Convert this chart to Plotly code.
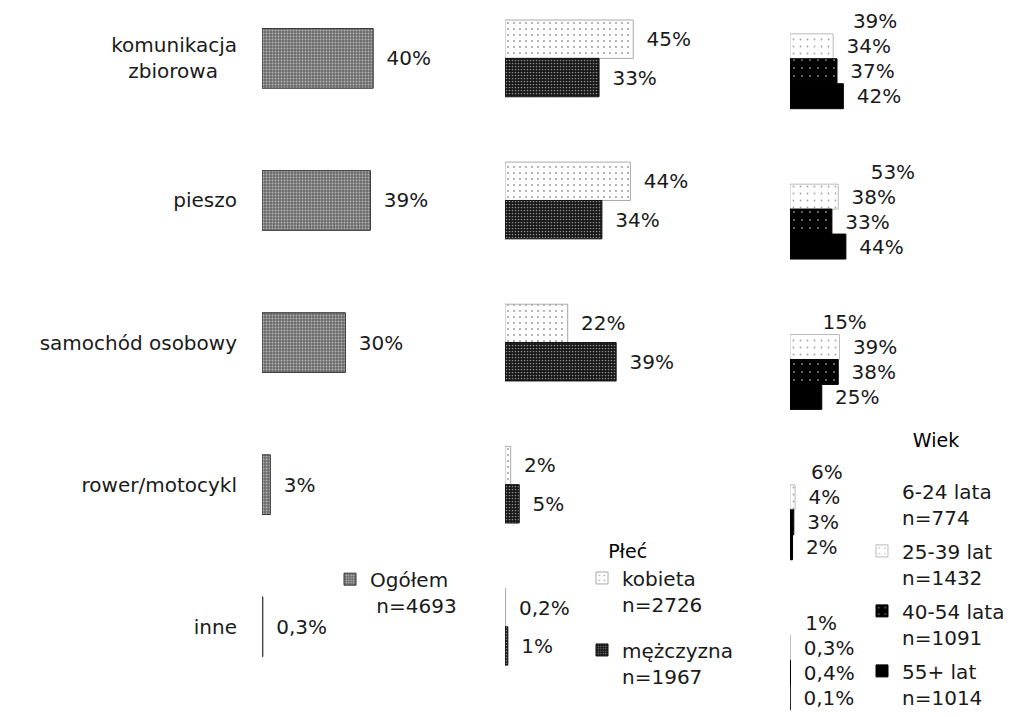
import plotly.graph_objects as go

# ---------------- data ----------------
categories = ["komunikacja zbiorowa", "pieszo", "samochód osobowy", "rower/motocykl", "inne"]
tick_labels = ["komunikacja<br>zbiorowa\u00a0\u00a0\u00a0", "pieszo", "samochód osobowy", "rower/motocykl", "inne"]

ogolem = [40, 39, 30, 3, 0.3]
kobieta = [45, 44, 22, 2, 0.2]
mezczyzna = [33, 34, 39, 5, 1]
wiek_6_24 = [39, 53, 15, 6, 1]
wiek_25_39 = [34, 38, 39, 4, 0.3]
wiek_40_54 = [37, 33, 38, 3, 0.4]
wiek_55 = [42, 44, 25, 2, 0.1]

legend_ogolem = "Ogółem<br>\u00a0n=4693"
legend_plec = ["kobieta<br>n=2726", "mężczyzna<br>n=1967"]
legend_wiek = ["6-24 lata<br>n=774", "25-39 lat<br>n=1432", "40-54 lata<br>n=1091", "55+ lat<br>n=1014"]

FONT = "DejaVu Sans"
TXT = "#1a1a1a"


def labels(vals):
    return ["\u00a0\u2009" + (f"{v:g}".replace(".", ",")) + "%" for v in vals]


fig = go.Figure()


def add_bar(vals, name, xaxis, yaxis, legend, offset, width, color, pattern=None, line=None):
    fig.add_trace(go.Bar(
        y=categories, x=vals, orientation="h", name=name,
        xaxis=xaxis, yaxis=yaxis, legend=legend, legendgroup=name,
        offset=offset, width=width,
        marker=dict(color=color, pattern=pattern or dict(shape=""),
                    line=line or dict(width=0)),
        text=labels(vals), textposition="outside", cliponaxis=False,
        constraintext="none",
        textfont=dict(family=FONT, size=20, color=TXT),
        hoverinfo="x+y",
    ))


# Panel 1 – Ogółem
add_bar(ogolem, legend_ogolem, "x", "y", "legend", -0.21, 0.42, "#777777",
        pattern=dict(shape=".", bgcolor="#6a6a6a", fgcolor="#ffffff", size=3, solidity=0.35),
        line=dict(width=1, color="#333333"))

# Panel 2 – Płeć
add_bar(kobieta, legend_plec[0], "x2", "y", "legend2", -0.27, 0.27, "#eeeeee",
        pattern=dict(shape=".", bgcolor="#ffffff", fgcolor="#333333", size=6, solidity=0.08),
        line=dict(width=1, color="#aaaaaa"))
add_bar(mezczyzna, legend_plec[1], "x2", "y", "legend2", 0.0, 0.27, "#333333",
        pattern=dict(shape=".", bgcolor="#151515", fgcolor="#ffffff", size=3, solidity=0.25),
        line=dict(width=1, color="#111111"))

# Panel 3 – Wiek
bw = 0.166
add_bar(wiek_6_24, legend_wiek[0], "x3", "y2", "legend3", -2 * bw, bw, "#ffffff")
add_bar(wiek_25_39, legend_wiek[1], "x3", "y2", "legend3", -bw, bw, "#f4f4f4",
        pattern=dict(shape=".", bgcolor="#ffffff", fgcolor="#444444", size=7, solidity=0.05),
        line=dict(width=1, color="#bbbbbb"))
add_bar(wiek_40_54, legend_wiek[2], "x3", "y2", "legend3", 0.0, bw, "#111111",
        pattern=dict(shape=".", bgcolor="#000000", fgcolor="#ffffff", size=8, solidity=0.05),
        line=dict(width=1, color="#000000"))
add_bar(wiek_55, legend_wiek[3], "x3", "y2", "legend3", bw, bw, "#000000",
        line=dict(width=1, color="#000000"))

# page has an 8px body margin; work in figure pixels
W, H = 1019, 709
hidden_x = dict(showgrid=False, zeroline=False, showticklabels=False, showline=False, fixedrange=True)

fig.update_layout(
    width=W, height=H,
    margin=dict(l=0, r=0, t=0, b=0),
    paper_bgcolor="white", plot_bgcolor="rgba(0,0,0,0)",
    barmode="overlay",
    font=dict(family=FONT, size=20, color=TXT),
    xaxis=dict(domain=[254 / W, (254 + 80 * 2.78) / W], range=[0, 80], anchor="y", **hidden_x),
    xaxis2=dict(domain=[497 / W, (497 + 85 * 2.85) / W], range=[0, 85], anchor="y", **hidden_x),
    xaxis3=dict(domain=[782 / W, (782 + 185 * 1.27) / W], range=[0, 185], anchor="y2", **hidden_x),
    yaxis=dict(domain=[0, 1], type="category", categoryorder="array", categoryarray=categories,
               tickvals=categories, ticktext=tick_labels,
               range=[4.614, -0.3546], showgrid=False, zeroline=False, showline=False,
               ticks="outside", ticklen=20, tickcolor="rgba(0,0,0,0)", automargin=False,
               tickfont=dict(family=FONT, size=20, color=TXT), anchor="x"),
    yaxis2=dict(domain=[0, 1], type="category", categoryorder="array", categoryarray=categories,
                range=[4.358, -0.3377], visible=False, anchor="x3", overlaying="y"),
    legend=dict(x=322 / W, y=1 - 554 / H, xanchor="left", yanchor="top",
                font=dict(family=FONT, size=20, color=TXT), valign="top",
                bgcolor="rgba(0,0,0,0)", borderwidth=0),
    legend2=dict(x=574 / W, y=1 - 528 / H, xanchor="left", yanchor="top",
                 title=dict(text="\u00a0\u00a0\u00a0\u00a0Płeć", side="top",
                            font=dict(family=FONT, size=19, color="#000000")),
                 font=dict(family=FONT, size=20, color=TXT), valign="top",
                 traceorder="grouped", tracegroupgap=17,
                 bgcolor="rgba(0,0,0,0)", borderwidth=0),
    legend3=dict(x=854 / W, y=1 - 416 / H, xanchor="left", yanchor="top",
                 title=dict(text="Wiek<br>\u00a0", side="top center",
                            font=dict(family=FONT, size=19, color="#000000")),
                 font=dict(family=FONT, size=20, color=TXT), valign="top",
                 traceorder="grouped", tracegroupgap=5,
                 bgcolor="rgba(0,0,0,0)", borderwidth=0),
    showlegend=True,
)

fig.write_html("out.html")
